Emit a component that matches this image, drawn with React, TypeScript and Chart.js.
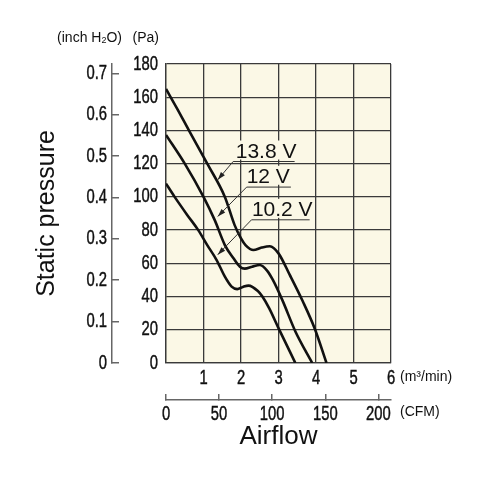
import React, { useEffect, useRef } from 'react';
import { Chart, registerables } from 'chart.js';

Chart.register(...registerables);

// ---- data (m³/min, Pa) ----
const flow138 = [0, 0.3, 0.6, 1.1, 1.57, 1.83, 2.0, 2.12, 2.33, 2.55, 2.77, 3.0, 3.3, 3.65, 3.97, 4.28];
const pa138 = [165, 153, 140.5, 120, 100, 83, 75, 71, 68, 69.5, 70.3, 66, 53, 37, 20.5, 0];

const flow120 = [0, 0.5, 1.0, 1.3, 1.57, 1.8, 1.97, 2.1, 2.3, 2.5, 2.7, 2.85, 3.1, 3.45, 3.9];
const pa120 = [137.3, 120, 100, 86, 71, 63, 58, 56.8, 58, 59, 55.5, 50, 38, 19, 0];

const flow102 = [0, 0.23, 0.57, 0.86, 1.1, 1.35, 1.57, 1.75, 1.9, 2.05, 2.2, 2.45, 2.57, 2.75, 3.0, 3.45];
const pa102 = [108, 100, 89, 80, 71, 62, 52, 46, 44.5, 45.8, 46.6, 43.3, 40, 33, 21, 0];

// ---- voltage callouts (data coordinates) ----
const calloutText = ['13.8 V', '12 V', '10.2 V'];
const calloutTextX = [1.86, 2.15, 2.29];
const calloutBaseY = [123.7, 108.5, 88.6];
const calloutLineY = [121.3, 105.9, 86.2];
const calloutLineX0 = [1.79, 2.15, 2.28];
const calloutLineX1 = [3.43, 3.33, 3.83];
const calloutTipX = [1.38, 1.38, 1.38];
const calloutTipY = [110.3, 88.2, 65.2];

// ---- axis settings ----
const paTicks = { min: 0, max: 180, step: 20 };
const flowTicks = { min: 0, max: 6, step: 1 };
const PA_PER_INCH = 249.0889;
const M3MIN_PER_CFM = 0.0283168;
const cfmStep = 50;
const inchStep = 0.1;

const BG = '#FBF8E6';
const GRID = '#3a3a3a';
const AXIS = '#666666';
const INK = '#111111';
const SANS = "'Liberation Sans', Arial, Helvetica, sans-serif";
const TICK_FONT = `20px ${SANS}`;
const TICK_SQUEEZE = 0.74;

const toXY = (xs: number[], ys: number[]) => xs.map((x, i) => ({ x, y: ys[i] }));

// draw condensed tick labels from the scale's own ticks
function drawTicks(ctx: any, scale: any, align: 'left' | 'right' | 'center', base: 'middle' | 'alphabetic', fx: (p: number) => number, fy: (p: number) => number) {
  ctx.save();
  ctx.font = TICK_FONT;
  ctx.fillStyle = INK;
  ctx.strokeStyle = INK;
  ctx.lineWidth = 0.45;
  ctx.textAlign = align;
  ctx.textBaseline = base;
  for (const t of scale.ticks) {
    const lab = t.label;
    if (lab === '' || lab == null) continue;
    const p = scale.getPixelForValue(t.value);
    ctx.save();
    ctx.translate(fx(p), fy(p));
    ctx.scale(TICK_SQUEEZE, 1);
    ctx.fillText(String(lab), 0, 0);
    ctx.strokeText(String(lab), 0, 0);
    ctx.restore();
  }
  ctx.restore();
}

const decorPlugin = {
  id: 'decor',
  beforeDraw(chart: any) {
    const { ctx, chartArea: a } = chart;
    ctx.save();
    ctx.fillStyle = BG;
    ctx.fillRect(a.left, a.top, a.right - a.left, a.bottom - a.top);
    ctx.restore();
  },
  beforeDatasetsDraw(chart: any) {
    const { ctx } = chart;
    const xs = chart.scales.x;
    const ys = chart.scales.y;
    ctx.save();
    ctx.font = `21px ${SANS}`;
    for (let i = 0; i < calloutText.length; i++) {
      const tx = xs.getPixelForValue(calloutTextX[i]);
      const ty = ys.getPixelForValue(calloutBaseY[i]);
      const w = ctx.measureText(calloutText[i]).width;
      ctx.fillStyle = BG;
      ctx.fillRect(tx - 2, ty - 17, w + 4, 19);
    }
    ctx.restore();
  },
  afterDatasetsDraw(chart: any) {
    const { ctx } = chart;
    const xs = chart.scales.x;
    const ys = chart.scales.y;
    ctx.save();
    for (let i = 0; i < calloutText.length; i++) {
      const tx = xs.getPixelForValue(calloutTextX[i]);
      const ty = ys.getPixelForValue(calloutBaseY[i]);
      ctx.font = `21px ${SANS}`;
      ctx.fillStyle = INK;
      ctx.textAlign = 'left';
      ctx.textBaseline = 'alphabetic';
      ctx.fillText(calloutText[i], tx, ty);
      const ux0 = xs.getPixelForValue(calloutLineX0[i]);
      const ux1 = xs.getPixelForValue(calloutLineX1[i]);
      const uy = ys.getPixelForValue(calloutLineY[i]);
      const px = xs.getPixelForValue(calloutTipX[i]);
      const py = ys.getPixelForValue(calloutTipY[i]);
      ctx.strokeStyle = '#333';
      ctx.lineWidth = 1;
      ctx.beginPath();
      ctx.moveTo(ux1, uy);
      ctx.lineTo(ux0, uy);
      ctx.lineTo(px, py);
      ctx.stroke();
      const ang = Math.atan2(py - uy, px - ux0);
      const L = 8, H = 2.6;
      const bx = px - Math.cos(ang) * L;
      const by = py - Math.sin(ang) * L;
      ctx.fillStyle = '#222';
      ctx.beginPath();
      ctx.moveTo(px, py);
      ctx.lineTo(bx - Math.sin(ang) * H, by + Math.cos(ang) * H);
      ctx.lineTo(bx + Math.sin(ang) * H, by - Math.cos(ang) * H);
      ctx.closePath();
      ctx.fill();
    }
    ctx.restore();
  },
  afterDraw(chart: any) {
    const { ctx, chartArea: a } = chart;
    const xs = chart.scales.x;
    const xc = chart.scales.cfm;
    const ys = chart.scales.y;
    const yi = chart.scales.yInch;

    // tick labels (condensed)
    drawTicks(ctx, ys, 'right', 'middle', () => a.left - 8, (p) => p);
    drawTicks(ctx, yi, 'right', 'middle', () => yi.right - 5, (p) => p);
    drawTicks(ctx, xs, 'center', 'alphabetic', (p) => p, () => xs.top + 20.5);
    drawTicks(ctx, xc, 'center', 'alphabetic', (p) => p, () => xc.top + 20);

    ctx.save();
    ctx.fillStyle = INK;
    ctx.font = `14px ${SANS}`;
    ctx.textBaseline = 'middle';
    ctx.textAlign = 'left';
    ctx.fillText('(m³/min)', a.right + 9, xs.top + 14);
    ctx.fillText('(CFM)', a.right + 9, xc.top + 12);
    ctx.textAlign = 'right';
    ctx.fillText('(Pa)', a.left - 7, a.top - 26);
    // (inch H2O) with subscript 2
    const yTop = a.top - 26;
    const p1 = '(inch H', p2 = '2', p3 = 'O)';
    ctx.textAlign = 'left';
    ctx.font = `14px ${SANS}`;
    const w1 = ctx.measureText(p1).width;
    const w3 = ctx.measureText(p3).width;
    ctx.font = `9px ${SANS}`;
    const w2 = ctx.measureText(p2).width;
    const right = yi.right + 10;
    const x0 = right - (w1 + w2 + w3);
    ctx.font = `14px ${SANS}`;
    ctx.fillText(p1, x0, yTop);
    ctx.font = `9px ${SANS}`;
    ctx.fillText(p2, x0 + w1, yTop + 3);
    ctx.font = `14px ${SANS}`;
    ctx.fillText(p3, x0 + w1 + w2, yTop);
    ctx.restore();
  },
};

const lineStyle = {
  borderColor: INK,
  borderWidth: 2.6,
  pointRadius: 0,
  fill: false,
  cubicInterpolationMode: 'monotone' as const,
  xAxisID: 'x',
  yAxisID: 'y',
};

export default function App() {
  const ref = useRef<HTMLCanvasElement>(null);
  useEffect(() => {
    const chart = new Chart(ref.current as HTMLCanvasElement, {
      type: 'line',
      data: {
        datasets: [
          { label: '13.8 V', data: toXY(flow138, pa138), ...lineStyle },
          { label: '12 V', data: toXY(flow120, pa120), ...lineStyle },
          { label: '10.2 V', data: toXY(flow102, pa102), ...lineStyle },
        ],
      },
      options: {
        animation: false,
        responsive: false,
        maintainAspectRatio: false,
        layout: { padding: { left: 10, top: 64, right: 96, bottom: 27 } },
        plugins: { legend: { display: false }, tooltip: { enabled: false } },
        scales: {
          x: {
            type: 'linear', position: 'bottom', weight: 0,
            min: flowTicks.min, max: flowTicks.max,
            ticks: {
              display: false, stepSize: flowTicks.step, autoSkip: false,
              callback: (v: any) => (Number(v) === 0 ? '' : String(v)),
            },
            grid: { color: GRID, lineWidth: 1.3, drawTicks: false },
            border: { display: true, color: GRID, width: 1.3 },
            afterFit: (s: any) => { s.height = 37; },
          },
          cfm: {
            type: 'linear', position: 'bottom', weight: 1,
            min: 0, max: flowTicks.max / M3MIN_PER_CFM,
            ticks: { display: false, stepSize: cfmStep, includeBounds: false, autoSkip: false },
            grid: {
              drawOnChartArea: false, drawTicks: true, tickLength: -6,
              color: AXIS, tickColor: AXIS, tickWidth: 1.5, lineWidth: 1.5,
            },
            border: { display: true, color: AXIS, width: 1.5 },
            title: {
              display: true, text: 'Airflow', color: INK,
              font: { family: SANS, size: 26 }, padding: { top: 0, bottom: 8 },
            },
            afterFit: (s: any) => { s.height = 60; },
          },
          y: {
            type: 'linear', position: 'left', weight: 0,
            min: paTicks.min, max: paTicks.max,
            ticks: { display: false, stepSize: paTicks.step },
            grid: { color: GRID, lineWidth: 1.3, drawTicks: false },
            border: { display: true, color: GRID, width: 1.3 },
            afterFit: (s: any) => { s.width = 54; },
          },
          yInch: {
            type: 'linear', position: 'left', weight: 1,
            min: 0, max: paTicks.max / PA_PER_INCH,
            ticks: {
              display: false, stepSize: inchStep, includeBounds: false,
              callback: (v: any) => (Number(v) === 0 ? '0' : Number(v).toFixed(1)),
            },
            grid: {
              drawOnChartArea: false, drawTicks: true, tickLength: -7,
              color: AXIS, tickColor: AXIS, tickWidth: 1.5, lineWidth: 1.5,
            },
            border: { display: true, color: AXIS, width: 1.5 },
            title: {
              display: true, text: 'Static pressure', color: INK,
              font: { family: SANS, size: 25 }, padding: { top: 22, bottom: 0 },
            },
            afterFit: (s: any) => { s.width = 102; },
          },
        },
      } as any,
      plugins: [decorPlugin],
    });
    return () => chart.destroy();
  }, []);
  return (
    <div style={{ position: 'fixed', left: 0, top: 0, width: 487, height: 487, background: '#ffffff' }}>
      <canvas ref={ref} width={487} height={487} style={{ width: 487, height: 487, display: 'block' }} />
    </div>
  );
}
